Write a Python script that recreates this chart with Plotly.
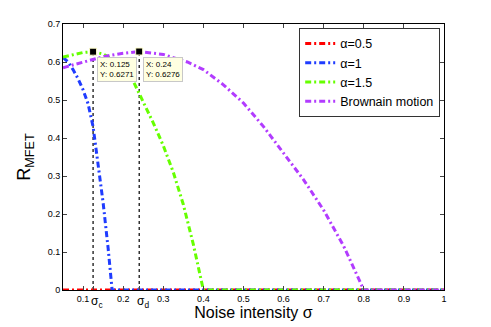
import plotly.graph_objects as go

# curves
sigma_red = [0.05, 0.2, 0.4, 0.6, 0.8, 1.0]
r_red = [0, 0, 0, 0, 0, 0]

sigma_blue = [0.05, 0.0625, 0.075, 0.0875, 0.1, 0.1125, 0.125, 0.1375, 0.15, 0.1625, 0.1725, 0.3, 0.5, 0.7, 1.0]
r_blue = [0.612, 0.6, 0.58, 0.556, 0.527, 0.49, 0.43, 0.335, 0.23, 0.11, 0.0, 0, 0, 0, 0]

sigma_green = [0.05, 0.075, 0.1, 0.125, 0.15, 0.175, 0.2, 0.225, 0.25, 0.275, 0.3, 0.325, 0.35, 0.375, 0.4, 0.6, 0.8, 1.0]
r_green = [0.613, 0.62, 0.625, 0.6271, 0.621, 0.607, 0.585, 0.55, 0.495, 0.44, 0.38, 0.31, 0.225, 0.12, 0.0, 0, 0, 0]

sigma_purple = [0.05, 0.1, 0.125, 0.15, 0.2, 0.24, 0.3, 0.36, 0.4, 0.45, 0.5, 0.55, 0.6, 0.65, 0.7, 0.75, 0.8, 0.9, 1.0]
r_purple = [0.585, 0.6, 0.607, 0.614, 0.623, 0.6276, 0.62, 0.6, 0.58, 0.54, 0.492, 0.43, 0.36, 0.29, 0.21, 0.115, 0.0, 0, 0]

tip_x = [0.125, 0.24]
tip_y = [0.6271, 0.6276]
tip_names = ['σ<sub>c</sub>', 'σ<sub>d</sub>']

x_ticks = [0.1, 0.125, 0.2, 0.24, 0.3, 0.4, 0.5, 0.6, 0.7, 0.8, 0.9, 1]
x_ticktext = ['0.1', '', '0.2', '', '0.3', '0.4', '0.5', '0.6', '0.7', '0.8', '0.9', '1']
top_ticks = [0.1, 0.2, 0.3, 0.4, 0.5, 0.6, 0.7, 0.8, 0.9, 1]
y_ticks = [0, 0.1, 0.2, 0.3, 0.4, 0.5, 0.6, 0.7]
y_ticktext = ['0', '0.1', '0.2', '0.3', '0.4', '0.5', '0.6', '0.7']

FONT = "Liberation Sans, Arial, sans-serif"
DASHDOT = "6px,3px,2px,3px"

fig = go.Figure()

# dotted guide lines under the data tips
for tx, ty in zip(tip_x, tip_y):
    fig.add_trace(go.Scatter(x=[tx, tx], y=[0, ty], mode='lines', showlegend=False,
                             line=dict(color='black', width=1.2, dash='dot'), hoverinfo='skip'))

series = [
    ('α=0.5', sigma_red, r_red, '#ff0000'),
    ('α=1', sigma_blue, r_blue, '#1f3cff'),
    ('α=1.5', sigma_green, r_green, '#66ff00'),
    ('Brownain motion', sigma_purple, r_purple, '#b23cff'),
]
for name, xs, ys, col in series:
    fig.add_trace(go.Scatter(x=xs, y=ys, name=name, mode='lines',
                             line=dict(color=col, width=3, dash=DASHDOT)))

fig.add_trace(go.Scatter(x=tip_x, y=tip_y, mode='markers', showlegend=False,
                         marker=dict(symbol='square', size=7, color='black',
                                     line=dict(color='#ffffcc', width=1)), cliponaxis=False))

# dummy trace (outside the y range) so the top axis is drawn with its own ticks
fig.add_trace(go.Scatter(x=[0.05, 1], y=[-1, -1], xaxis='x2', mode='lines',
                         showlegend=False, hoverinfo='skip', line=dict(color='white')))

for tx, ty, nm in zip(tip_x, tip_y, tip_names):
    fig.add_annotation(x=tx, y=ty, xref='x', yref='y', text=f"X: {tx:g}<br>Y: {ty:.4f}",
                       showarrow=True, arrowcolor='rgba(0,0,0,0)', ax=4, ay=5,
                       xanchor='left', yanchor='top', align='left',
                       font=dict(family=FONT, size=8, color='black'),
                       bgcolor='#ffffe1', bordercolor='#c8c8c8', borderwidth=1, borderpad=2)
    # sigma_c / sigma_d labels under the axis
    fig.add_annotation(x=tx, y=0, xref='x', yref='paper', text=nm, showarrow=False,
                       xanchor='center', yanchor='top', xshift=4, yshift=-2,
                       font=dict(family=FONT, size=12, color='black'))

fig.update_layout(
    width=491, height=327,
    margin=dict(l=63, r=47, t=24, b=37),
    paper_bgcolor='white', plot_bgcolor='white',
    font=dict(family=FONT, color='black'),
    legend=dict(x=0.99, y=0.985, xanchor='right', yanchor='top',
                bgcolor='white', bordercolor='#333333', borderwidth=1,
                font=dict(size=12.5), tracegroupgap=0, itemwidth=30),
    xaxis=dict(range=[0.05, 1], tickvals=x_ticks, ticktext=x_ticktext, ticks='inside', ticklen=4,
               tickangle=0, tickfont=dict(size=9), showline=True, linecolor='black', mirror=True,
               showgrid=False, zeroline=False, automargin=False,
               title=dict(text='Noise intensity σ', font=dict(size=16), standoff=1)),
    xaxis2=dict(range=[0.05, 1], overlaying='x', anchor='y', side='top', tickvals=top_ticks,
                ticks='inside', ticklen=4, showticklabels=False, showgrid=False,
                zeroline=False, showline=False, automargin=False),
    yaxis=dict(range=[0, 0.7], tickvals=y_ticks, ticktext=y_ticktext, ticks='inside', ticklen=4,
               tickfont=dict(size=9), showline=True, linecolor='black', mirror='ticks',
               showgrid=False, zeroline=False, automargin=False,
               title=dict(text='R<sub>MFET</sub>', font=dict(size=18), standoff=12)),
)

fig.write_html("out.html", config={'displayModeBar': False},
               post_script="document.body.style.margin='0';")
